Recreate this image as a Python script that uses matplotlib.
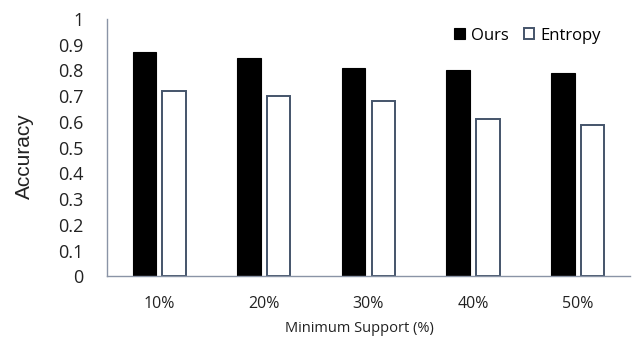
import matplotlib
matplotlib.use("Agg")
import matplotlib.pyplot as plt
import numpy as np

categories = ["10%", "20%", "30%", "40%", "50%"]
ours = [0.87, 0.85, 0.81, 0.80, 0.79]
entropy = [0.72, 0.70, 0.68, 0.61, 0.59]
yticks = [0, 0.1, 0.2, 0.3, 0.4, 0.5, 0.6, 0.7, 0.8, 0.9, 1]
ytick_labels = ["0", "0.1", "0.2", "0.3", "0.4", "0.5", "0.6", "0.7", "0.8", "0.9", "1"]

plt.rcParams["font.family"] = ["Open Sans", "DejaVu Sans"]

fig = plt.figure(figsize=(6.35, 3.39), dpi=100)
ax = fig.add_axes([0.1685, 0.1844, 0.8235, 0.7596])

x = np.arange(len(categories))
w = 0.225
off = 0.142
edge = "#44546a"
axis_col = "#8a94a6"

ax.bar(x - off, ours, width=w, color="black", edgecolor="black", linewidth=0.8, label="Ours")
ax.bar(x + off, entropy, width=w, color="white", edgecolor=edge, linewidth=1.4, label="Entropy")

ax.set_xlim(-0.5, len(categories) - 0.5)
ax.set_ylim(0, 1)
ax.set_yticks(yticks)
ax.set_yticklabels(ytick_labels, fontsize=13, color="#222222")
ax.set_xticks(x)
ax.set_xticklabels(categories, fontsize=11.5, color="#222222")
ax.tick_params(axis="y", length=0, pad=17)
ax.tick_params(axis="x", length=0, pad=14)

for s in ["top", "right"]:
    ax.spines[s].set_visible(False)
for s in ["left", "bottom"]:
    ax.spines[s].set_color(axis_col)
    ax.spines[s].set_linewidth(1.0)

ax.set_ylabel("Accuracy", fontsize=15, color="#222222", family=["Liberation Sans", "DejaVu Sans"])
ax.yaxis.set_label_coords(-0.14, 0.467)
ax.set_xlabel("Minimum Support (%)", fontsize=10.5, color="#222222")
ax.xaxis.set_label_coords(0.482, -0.172)

leg = ax.legend(loc="center right", bbox_to_anchor=(0.957, 0.935), ncol=2, frameon=False,
                fontsize=12, handlelength=0.65, handleheight=0.65, handletextpad=0.35,
                columnspacing=0.9, borderaxespad=0.0)

fig.savefig("out.png", dpi=100)
